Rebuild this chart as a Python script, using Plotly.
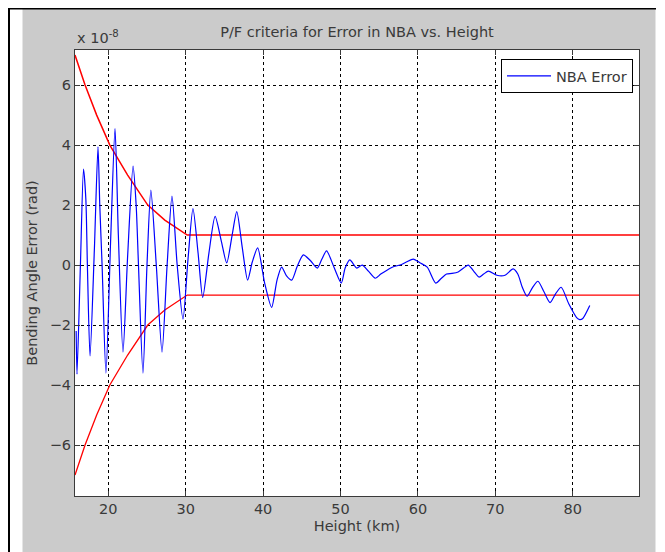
import plotly.graph_objects as go

# ---- data ----
height_km = [15.85, 15.96, 16.4, 16.8, 17.1, 17.3, 17.64, 18.2, 18.67, 18.9, 19.2, 19.7,
             20.3, 20.87, 21.3, 21.9, 22.5, 23.2, 23.6, 23.9, 24.48, 25.0, 25.5, 26.2,
             26.94, 27.6, 28.23, 28.9, 29.65, 30.3, 30.94, 31.6, 32.2, 33.0, 33.8, 34.6,
             35.3, 36.0, 36.6, 37.3, 38.0, 38.6, 39.3, 40.2, 41.1, 41.8, 42.4, 43.0,
             43.7, 44.4, 45.2, 46.1, 47.0, 47.6, 48.2, 49.2, 50.1, 50.6, 51.2, 52.1,
             52.8, 53.6, 54.5, 55.2, 56.0, 56.9, 57.7, 58.5, 59.4, 60.3, 61.2, 62.3,
             63.0, 63.7, 64.4, 65.2, 65.9, 66.5, 67.2, 67.9, 68.5, 69.1, 70.2, 71.25,
             72.3, 72.9, 73.5, 74.1, 74.8, 75.5, 76.3, 77.07, 77.8, 78.5, 79.5, 80.5,
             80.9, 81.3, 82.2]
nba_error = [-2.2, -3.64, 0.0, 3.2, 2.2, 0.0, -3.03, 0.5, 3.94, 2.0, 0.0, -3.6,
             0.8, 4.55, 1.0, -2.9, 0.3, 3.3, 2.0, 0.0, -3.6, 0.0, 2.5, 0.0,
             -2.9, 0.0, 2.3, 0.0, -1.8, 0.2, 1.88, 0.4, -1.08, 0.4, 1.62, 0.8,
             0.07, 1.0, 1.78, 0.6, -0.5, 0.1, 0.57, -0.6, -1.41, -0.5, -0.07, -0.35,
             -0.5, -0.05, 0.34, 0.15, -0.1, 0.2, 0.47, -0.1, -0.6, -0.1, 0.17, -0.1,
             0.0, -0.2, -0.44, -0.3, -0.17, -0.05, 0.0, 0.1, 0.2, 0.07, -0.07, -0.6,
             -0.45, -0.3, -0.28, -0.23, -0.1, 0.0, -0.2, -0.4, -0.3, -0.2, -0.34, -0.34,
             -0.13, -0.3, -0.75, -1.04, -0.75, -0.54, -0.9, -1.25, -0.95, -0.74, -1.3, -1.75,
             -1.82, -1.78, -1.35]

env_height = [15.7, 17.0, 18.5, 20.2, 22.5, 25.1, 27.3, 30.2, 88.56]
env_upper = [7.0, 6.0, 5.0, 4.0, 3.0, 2.0, 1.5, 1.0, 1.0]
env_lower = [-7.0, -6.0, -5.0, -4.0, -3.0, -2.0, -1.5, -1.0, -1.0]

x_ticks = [20, 30, 40, 50, 60, 70, 80]
y_ticks = [-6, -4, -2, 0, 2, 4, 6]

FONT = "DejaVu Sans, Verdana, sans-serif"
TXT = "#3a3a3a"
FS = 14.5

# The page body has an 8px margin, so the figure is 657x544 and
# all pixel positions below are page positions minus 8.
FW, FH = 657, 544
L, R, T, B = 67, 631, 42, 488          # plot area in figure pixels
W, H = R - L, B - T
def px(x):
    return (x - L) / W
def py(y):
    return (B - y) / H

fig = go.Figure()
fig.add_trace(go.Scatter(x=env_height, y=env_upper, mode="lines",
                         line=dict(color="#ff0000", width=1.5), showlegend=False,
                         hoverinfo="skip"))
fig.add_trace(go.Scatter(x=env_height, y=env_lower, mode="lines",
                         line=dict(color="#ff0000", width=1.3), showlegend=False,
                         hoverinfo="skip"))
fig.add_trace(go.Scatter(x=height_km, y=nba_error, mode="lines", name="NBA Error",
                         line=dict(color="#0000ff", width=1.2, shape="spline", smoothing=0.7)))

axis_common = dict(
    showgrid=True, gridcolor="#000000", gridwidth=1, griddash="3px,3px",
    showline=True, linecolor="#3a3a3a", linewidth=1, mirror="ticks",
    ticks="inside", ticklen=5, tickcolor="#3a3a3a", zeroline=False,
    tickfont=dict(family=FONT, size=FS, color=TXT),
)

fig.update_layout(
    width=FW, height=FH,
    margin=dict(l=L, r=FW - R, t=T, b=FH - B, pad=0),
    paper_bgcolor="#cbcbcb", plot_bgcolor="#ffffff",
    font=dict(family=FONT, size=FS, color=TXT),
    title=dict(text="P/F criteria for Error in NBA vs. Height",
               x=0.5, xref="paper", y=1 - 24 / FH, yref="container",
               yanchor="middle", xanchor="center",
               font=dict(family=FONT, size=FS, color=TXT)),
    xaxis=dict(range=[15.7, 88.56], tickvals=x_ticks,
               title=dict(text="Height (km)", standoff=4,
                          font=dict(family=FONT, size=FS, color=TXT)),
               **axis_common),
    yaxis=dict(range=[-7.7, 7.17], tickvals=y_ticks,
               title=dict(text="Bending Angle Error (rad)", standoff=8,
                          font=dict(family=FONT, size=FS, color=TXT)),
               **axis_common),
    legend=dict(x=px(625), y=py(51), xanchor="right", yanchor="top",
                bgcolor="#ffffff", bordercolor="#000000", borderwidth=1,
                font=dict(family=FONT, size=14.5, color=TXT),
                itemwidth=44, tracegroupgap=0),
    showlegend=True,
)

fig.add_annotation(text="x 10<sup>-8</sup>", xref="paper", yref="paper",
                   x=px(67), y=py(29), xanchor="left", yanchor="middle",
                   showarrow=False, font=dict(family=FONT, size=FS, color=TXT))

# outer page frame (white margins + black rules)
shapes = [
    dict(type="rect", xref="paper", yref="paper", x0=-0.3, x1=px(14.5), y0=-0.3, y1=1.3,
         fillcolor="#ffffff", line=dict(width=0), layer="above"),
    dict(type="rect", xref="paper", yref="paper", x0=px(647.5), x1=1.3, y0=-0.3, y1=1.3,
         fillcolor="#ffffff", line=dict(width=0), layer="above"),
    dict(type="rect", xref="paper", yref="paper", x0=-0.3, x1=1.3, y0=py(1), y1=1.3,
         fillcolor="#ffffff", line=dict(width=0), layer="above"),
    dict(type="line", xref="paper", yref="paper", x0=-0.3, x1=px(648), y0=py(0.5), y1=py(0.5),
         line=dict(color="#000000", width=2), layer="above"),
    dict(type="line", xref="paper", yref="paper", x0=px(1), x1=px(1), y0=-0.3, y1=py(0),
         line=dict(color="#000000", width=2), layer="above"),
]
fig.update_layout(shapes=shapes)

fig.write_html("out.html")
